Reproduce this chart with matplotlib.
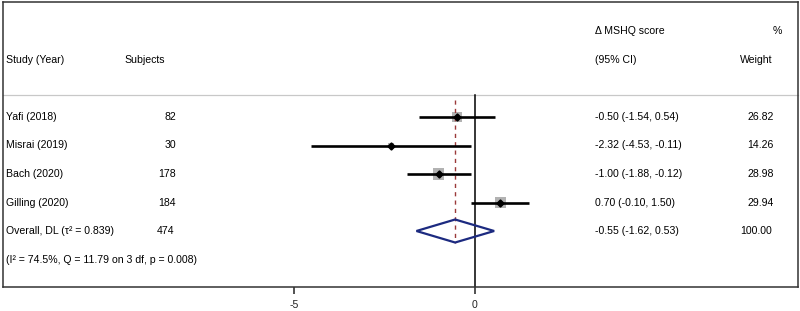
import matplotlib
matplotlib.use("Agg")
import matplotlib.pyplot as plt
from matplotlib.patches import Polygon, Rectangle

plt.rcParams['font.family'] = ['Liberation Sans', 'DejaVu Sans']

# ---- data ----
studies = ["Yafi (2018)", "Misrai (2019)", "Bach (2020)", "Gilling (2020)"]
subjects = [82, 30, 178, 184]
est = [-0.50, -2.32, -1.00, 0.70]
lo = [-1.54, -4.53, -1.88, -0.10]
hi = [0.54, -0.11, -0.12, 1.50]
weights = [26.82, 14.26, 28.98, 29.94]
overall_label = "Overall, DL (τ² = 0.839)"
overall_n = 474
overall_est, overall_lo, overall_hi = -0.55, -1.62, 0.53
overall_weight = 100.00
het_text = "(I² = 74.5%, Q = 11.79 on 3 df, p = 0.008)"
xticks = [-5, 0]

# ---- layout (pixel-based) ----
W, H, DPI = 800, 311, 100
fl, fr, ft, fb = 3, 798, 2, 287       # frame in pixels
x0px, ppu = 475, 36.15                 # pixel of zero, pixels per unit
row_y = [117, 145.5, 174, 202.5]
overall_y = 231
het_y = 260
hdr1_y, hdr2_y = 31, 60
sep_y = 94.5
fs = 7.6

fig = plt.figure(figsize=(W / DPI, H / DPI), dpi=DPI)
ax = fig.add_axes([fl / W, 1 - fb / H, (fr - fl) / W, (fb - ft) / H])
ax.set_xlim((fl - x0px) / ppu, (fr - x0px) / ppu)
ax.set_ylim(fb, ft)
for s in ax.spines.values():
    s.set_linewidth(1.1)
    s.set_color('#333333')
ax.set_yticks([])
ax.set_xticks(xticks)
ax.set_xticklabels([str(t) for t in xticks], fontsize=fs)
ax.tick_params(axis='x', direction='out', length=5, width=1.1, pad=4, colors='#222222')

tr = ax.get_yaxis_transform()  # x in axes frac, y in data
def fx(px):
    return (px - fl) / (fr - fl)

# header separator
ax.plot([0, 1], [sep_y, sep_y], transform=tr, color='#c8c8c8', lw=0.9, clip_on=False)

# zero line
ax.plot([0, 0], [sep_y, fb], color='black', lw=1.1)

# study rows
ppt = 72 / DPI
for i in range(len(studies)):
    y = row_y[i]
    side = 11.5 * weights[i] / max(weights)
    ax.add_patch(Rectangle((est[i] - side / 2 / ppu, y - side / 2), side / ppu, side,
                           facecolor='#b2b2b2', edgecolor='none', zorder=1))
    ax.plot([lo[i], hi[i]], [y, y], color='black', lw=1.9, solid_capstyle='butt', zorder=3)
    ax.plot([est[i]], [y], marker='D', ms=5 * ppt, mfc='black', mec='black', zorder=4)
    ax.text(fx(6), y, studies[i], transform=tr, fontsize=fs, va='center', ha='left')
    ax.text(fx(176), y, str(subjects[i]), transform=tr, fontsize=fs, va='center', ha='right')
    ax.text(fx(595), y, f"{est[i]:.2f} ({lo[i]:.2f}, {hi[i]:.2f})", transform=tr,
            fontsize=fs, va='center', ha='left')
    ax.text(fx(774), y, f"{weights[i]:.2f}", transform=tr, fontsize=fs, va='center', ha='right')

# dashed overall line
ax.plot([overall_est, overall_est], [sep_y + 5, overall_y + 11.5], color='#9b3a3a',
        lw=1.0, ls=(0, (3, 3)), zorder=2)

# overall diamond
dh = 11.5
diamond = Polygon([[overall_lo, overall_y], [overall_est, overall_y - dh],
                   [overall_hi, overall_y], [overall_est, overall_y + dh]],
                  closed=True, fill=False, edgecolor='#1c2a80', lw=1.6, zorder=3)
ax.add_patch(diamond)
ax.text(fx(6), overall_y, overall_label, transform=tr, fontsize=fs, va='center', ha='left')
ax.text(fx(174), overall_y, str(overall_n), transform=tr, fontsize=fs, va='center', ha='right')
ax.text(fx(595), overall_y, f"{overall_est:.2f} ({overall_lo:.2f}, {overall_hi:.2f})",
        transform=tr, fontsize=fs, va='center', ha='left')
ax.text(fx(772), overall_y, f"{overall_weight:.2f}", transform=tr, fontsize=fs,
        va='center', ha='right')
ax.text(fx(6), het_y, het_text, transform=tr, fontsize=fs, va='center', ha='left')

# headers
ax.text(fx(6), hdr2_y, "Study (Year)", transform=tr, fontsize=fs, va='center', ha='left')
ax.text(fx(124), hdr2_y, "Subjects", transform=tr, fontsize=fs, va='center', ha='left')
ax.text(fx(595), hdr1_y, "Δ MSHQ score", transform=tr, fontsize=fs, va='center', ha='left')
ax.text(fx(595), hdr2_y, "(95% CI)", transform=tr, fontsize=fs, va='center', ha='left')
ax.text(fx(782), hdr1_y, "%", transform=tr, fontsize=fs, va='center', ha='right')
ax.text(fx(772), hdr2_y, "Weight", transform=tr, fontsize=fs, va='center', ha='right')

fig.savefig("out.png", dpi=DPI)
